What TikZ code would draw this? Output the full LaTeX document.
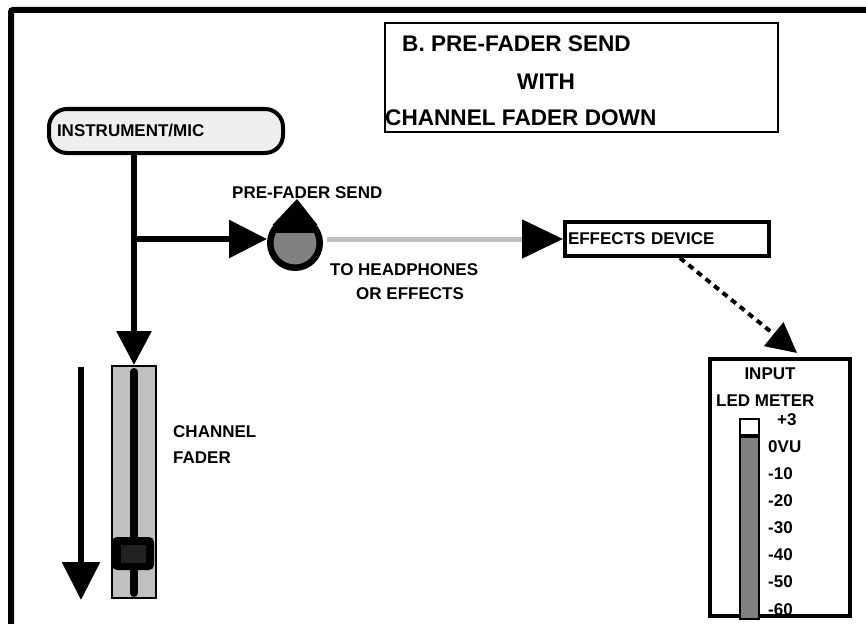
\documentclass[tikz,border=0pt]{standalone}
\usepackage{fontspec}
\setmainfont{Liberation Sans}
\usepackage {tikz}
\usetikzlibrary {positioning,arrows.meta}
\definecolor{panel}{HTML}{EFEFEF}
\definecolor{slider}{HTML}{C0C0C0}
\definecolor{knob}{HTML}{808080}

\begin{document}
\begin{tikzpicture}[x=1pt,y=-1pt,
    lbl/.style ={font=\fontsize{17}{20}\selectfont\bfseries, inner sep=0pt},
    big/.style ={font=\fontsize{22.6}{26}\selectfont\bfseries, inner sep=0pt},
    sig/.style ={line width=6pt, -{Triangle[length=38pt,width=37pt]}},
    box/.style ={rectangle, draw, line width=4pt, fill=white, inner sep=0pt}
    ]
    \useasboundingbox (0,0) rectangle (866,623);
    \draw[line width=6pt, rounded corners=2pt] (11,640) -- (11,10) -- (880,10);

    % title
    \node[rectangle, draw, line width=2pt, minimum width=393pt, minimum height=109pt] (title) at (581.5,77.5) {};
    \node[big, anchor=base west] (t1) at (402,52) {B. PRE-FADER SEND};
    \node[big, anchor=base west] (t2) at (517,90) {WITH};
    \node[big, anchor=base west] (t3) at (385,125) {CHANNEL FADER DOWN};

    % source
    \node[box, lbl, fill=panel, rounded corners=18pt, minimum width=234pt, minimum height=44pt,
      text width=218pt, inner xsep=8pt, anchor=north west] (mic) at (47,107) {INSTRUMENT/MIC};

    % fader
    \node[rectangle, draw, line width=2pt, fill=slider, minimum width=44pt, minimum height=232pt] (fader) at (134,482) {};
    \draw[line width=8pt, line cap=round] ([yshift=-7pt]fader.north) -- ([yshift=6pt]fader.south);
    \node[rectangle, fill, rounded corners=5pt, minimum width=42pt, minimum height=33pt] (cap) at (133,553.5) {};
    \node[rectangle, fill=black!87, minimum width=25pt, minimum height=18pt] (grip) at (cap) {};
    \node[lbl, anchor=base west] (chan) at (173,437) {CHANNEL};
    \node[lbl, anchor=base west] (fadr) at (173,463) {FADER};

    \coordinate (dtop) at (81,367);
    \coordinate (dend) at (81,600);
    \draw[sig] (dtop) -- (dend);

    \draw[line width=6pt, -{Triangle[length=34pt,width=34pt]}] (fader.north |- mic.south) -- (fader.north);

    % effects
    \node[box, lbl, minimum width=204pt, minimum height=34pt, text width=198pt, inner xsep=3pt] (fx) at (667,239) {EFFECTS DEVICE};

    % send knob
    \node[circle, draw, line width=6.5pt, fill=knob, minimum size=49.5pt, inner sep=0pt] (send) at (295,243) {};
    \begin{scope}
      \clip (send) circle (22pt);
      \fill (260,200) rectangle (330,233);
    \end{scope}
    \fill (297,199) -- (272.5,225) -- (317.5,225) -- cycle;
    \node[lbl, anchor=base west] (sendlbl) at (232,198) {PRE-FADER SEND};
    \node[lbl, anchor=base west] (hp) at (330,275) {TO HEADPHONES};
    \node[lbl, anchor=base west] (orfx) at (356,299) {OR EFFECTS};

    \coordinate (branch) at (fader.north |- fx.west);
    \draw[sig] (branch) -- (send.west |- branch);
    \draw[line width=5pt, draw=slider, -{Triangle[length=41pt,width=38pt,color=black,fill=black]}]
      ([xshift=3.5pt]send.east |- fx.west) -- (fx.west);

    % meter
    \node[box, minimum width=140pt, minimum height=257pt] (meter) at (780,487.5) {};
    \draw[line width=4pt, dash pattern=on 6pt off 5pt, -{Triangle[length=30pt,width=30pt]}]
      ([xshift=13pt]fx.south) -- ([xshift=17pt,yshift=4pt]meter.north);
    \node[rectangle, draw, line width=2pt, fill=white, minimum width=19pt, minimum height=16pt, anchor=north] (peak) at (749.5,418) {};
    \node[rectangle, draw, line width=2pt, fill=knob, minimum width=19pt, minimum height=182pt, anchor=north] (bar) at (peak.south) {};
    \node[lbl, anchor=base] (input) at (770,379) {INPUT};
    \node[lbl, anchor=base west] (ledm) at (716,406) {LED METER};
    \node[lbl, anchor=base west] (lvtop) at (777,425) {+3};
    \foreach \lv [count=\i from 0] in {0VU,-10,-20,-30,-40,-50,-60}
      \node[lbl, anchor=base west] (lv\i) at (768, {452+27.17*\i}) {\lv};
\end{tikzpicture}
\end{document}
